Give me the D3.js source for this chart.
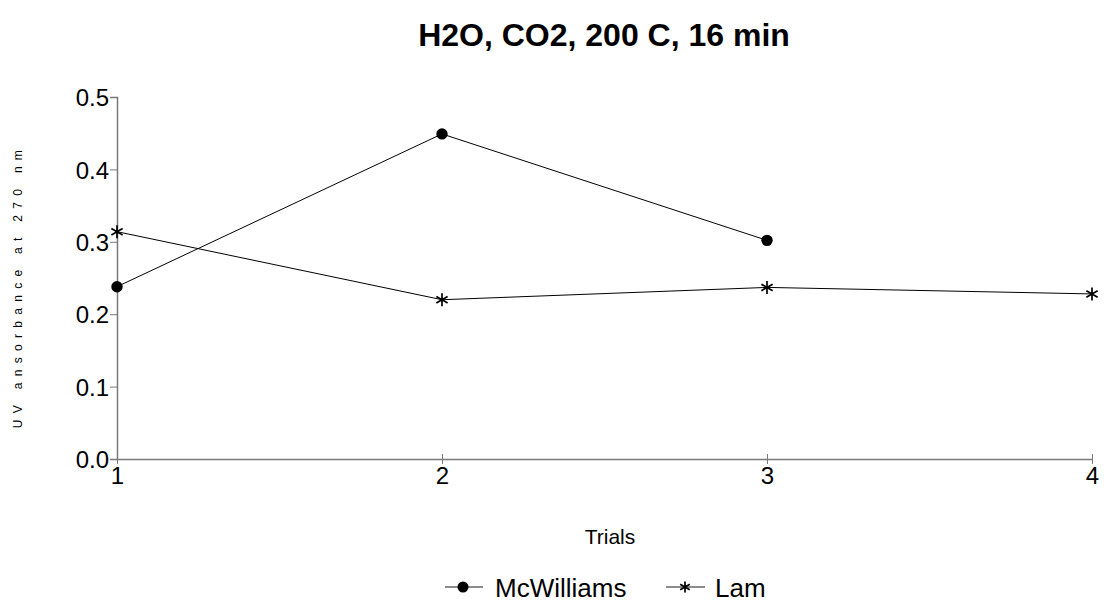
<!DOCTYPE html>
<html>
<head>
<meta charset="utf-8">
<script src="https://cdn.jsdelivr.net/npm/d3@7"></script>
<style>
  body { margin: 0; background: #fff; }
  svg { display: block; font-family: "Liberation Sans", Arial, sans-serif; }
</style>
</head>
<body>
<svg id="chart" width="1104" height="603"></svg>
<script>
// Trials and UV absorbance readings per analyst
const trials = [1, 2, 3, 4];
const mcwilliams = [0.238, 0.449, 0.302];
const lam = [0.314, 0.220, 0.237, 0.228];
const yTicks = [0.0, 0.1, 0.2, 0.3, 0.4, 0.5];
const seriesNames = ["McWilliams", "Lam"];

const svg = d3.select("#chart");
const margin = { left: 117, right: 12, top: 97, bottom: 144 };
const W = 1104, H = 603;

const x = d3.scaleLinear().domain([1, 4]).range([margin.left, W - margin.right]);
const y = d3.scaleLinear().domain([0, 0.5]).range([H - margin.bottom, margin.top]);

const axisColor = "#7a7a7a";
const fontFamily = "Liberation Sans, Arial, sans-serif";

// Title
svg.append("text")
  .attr("x", 604).attr("y", 46)
  .attr("text-anchor", "middle")
  .attr("font-size", 32).attr("font-weight", "bold")
  .text("H2O, CO2, 200 C, 16 min");

// Y axis
const yAxis = svg.append("g")
  .attr("transform", `translate(${margin.left},0)`)
  .call(d3.axisLeft(y).tickValues(yTicks).tickFormat(d3.format(".1f")).tickSize(7).tickPadding(1));
yAxis.select(".domain").attr("stroke", axisColor).attr("stroke-width", 1.5);
yAxis.selectAll(".tick line").attr("stroke", axisColor);
yAxis.selectAll(".tick text").attr("font-size", 24).attr("fill", "#000")
  .attr("font-family", fontFamily).attr("dy", "0.36em");

// X axis
const xAxis = svg.append("g")
  .attr("transform", `translate(0,${y(0)})`)
  .call(d3.axisBottom(x).tickValues(trials).tickFormat(d3.format("d")).tickSize(0).tickPadding(8));
xAxis.select(".domain").attr("stroke", axisColor).attr("stroke-width", 1.5);
xAxis.selectAll(".tick line").attr("stroke", axisColor).attr("y1", -5).attr("y2", 5);
xAxis.selectAll(".tick text").attr("font-size", 24).attr("fill", "#000")
  .attr("font-family", fontFamily).attr("dy", "0.71em");

// Axis titles
svg.append("text")
  .attr("x", 610).attr("y", 544)
  .attr("text-anchor", "middle").attr("font-size", 21)
  .text("Trials");

svg.append("text")
  .attr("transform", "translate(22,286) rotate(-90)")
  .attr("text-anchor", "middle").attr("font-size", 12)
  .attr("letter-spacing", "6.3px")
  .text("UV ansorbance at 270 nm");

// Asterisk marker: one vertical stroke and two slanted strokes
function star(g, cx, cy, r) {
  const p = d3.path();
  p.moveTo(cx, cy - r); p.lineTo(cx, cy + r);
  const dx = r * Math.cos(Math.PI / 6), dy = r * Math.sin(Math.PI / 6);
  p.moveTo(cx - dx, cy - dy); p.lineTo(cx + dx, cy + dy);
  p.moveTo(cx - dx, cy + dy); p.lineTo(cx + dx, cy - dy);
  g.append("path").attr("d", p.toString()).attr("stroke", "#000").attr("stroke-width", 1.7).attr("fill", "none");
}

const line = d3.line().x((d, i) => x(trials[i])).y(d => y(d));

// McWilliams series
svg.append("path").datum(mcwilliams)
  .attr("d", line).attr("fill", "none").attr("stroke", "#000").attr("stroke-width", 1);
svg.append("g").selectAll("circle").data(mcwilliams).join("circle")
  .attr("cx", (d, i) => x(trials[i])).attr("cy", d => y(d)).attr("r", 5.7).attr("fill", "#000");

// Lam series
svg.append("path").datum(lam)
  .attr("d", line).attr("fill", "none").attr("stroke", "#000").attr("stroke-width", 1);
const lamG = svg.append("g");
lam.forEach((d, i) => star(lamG, x(trials[i]), y(d), 6.5));

// Legend
const leg = svg.append("g");
const legY = 587;
leg.append("line").attr("x1", 445).attr("x2", 483).attr("y1", legY).attr("y2", legY).attr("stroke", "#666").attr("stroke-width", 1.3);
leg.append("circle").attr("cx", 463).attr("cy", legY).attr("r", 5.5).attr("fill", "#000");
leg.append("text").attr("x", 495).attr("y", 597).attr("font-size", 26).text(seriesNames[0]);
leg.append("line").attr("x1", 666).attr("x2", 705).attr("y1", legY).attr("y2", legY).attr("stroke", "#666").attr("stroke-width", 1.3);
star(leg, 685, legY, 5.5);
leg.append("text").attr("x", 715).attr("y", 597).attr("font-size", 26).text(seriesNames[1]);
</script>
</body>
</html>
